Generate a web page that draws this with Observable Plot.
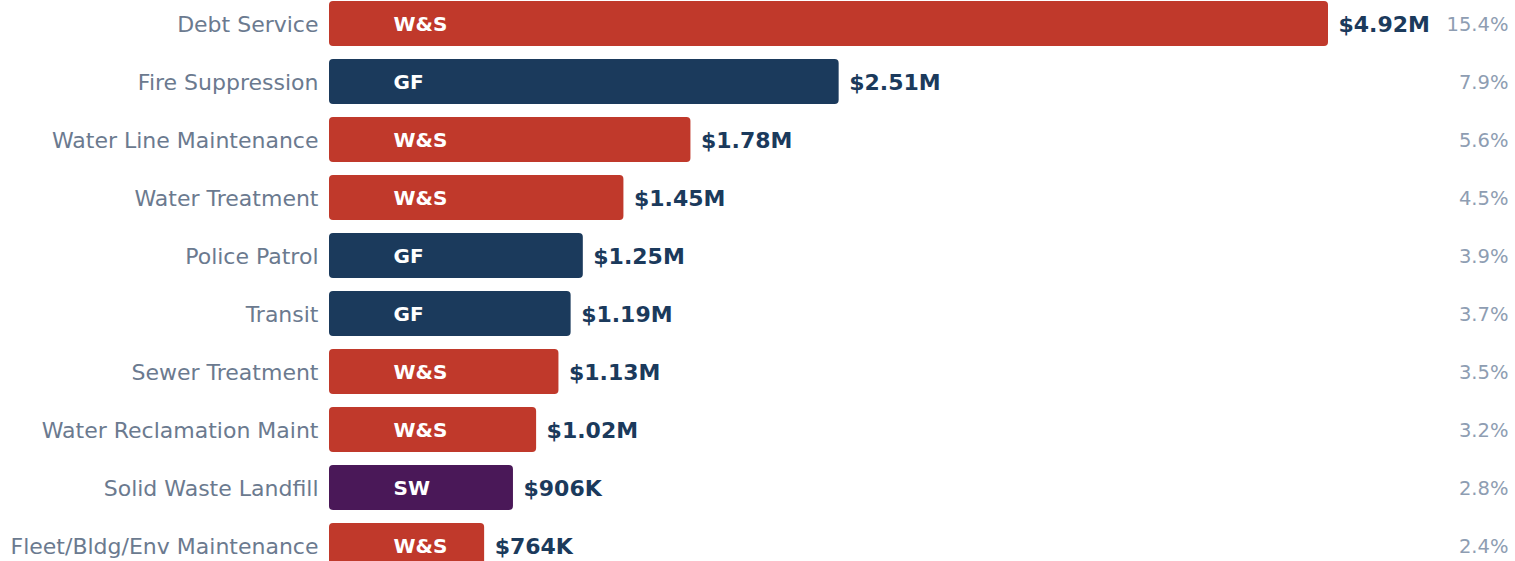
<!DOCTYPE html>
<html>
<head>
<meta charset="utf-8">
<script src="https://cdn.jsdelivr.net/npm/d3@7"></script>
<script src="https://cdn.jsdelivr.net/npm/@observablehq/plot@0.6"></script>
<style>
  html, body { margin: 0; padding: 0; background: #ffffff; overflow: hidden; }
  #chart svg { display: block; }
</style>
</head>
<body>
<div id="chart"></div>
<script>
const categories = ["Debt Service", "Fire Suppression", "Water Line Maintenance", "Water Treatment", "Police Patrol", "Transit", "Sewer Treatment", "Water Reclamation Maint", "Solid Waste Landfill", "Fleet/Bldg/Env Maintenance"];
const values = [4.92e6, 2.51e6, 1.78e6, 1.45e6, 1.25e6, 1.19e6, 1.13e6, 1.02e6, 906e3, 764e3];
const funds = ["W&S", "GF", "W&S", "W&S", "GF", "GF", "W&S", "W&S", "SW", "W&S"];
const percents = ["15.4%", "7.9%", "5.6%", "4.5%", "3.9%", "3.7%", "3.5%", "3.2%", "2.8%", "2.4%"];
const fundNames = ["W&S", "GF", "SW"];
const fundColors = ["#c0392b", "#1b3a5c", "#4a1858"];

const data = categories.map((c, i) => ({category: c, value: values[i], fund: funds[i], pct: percents[i]}));
const fmt = v => v >= 1e6 ? "$" + (v / 1e6).toFixed(2) + "M" : "$" + Math.round(v / 1e3) + "K";

const chart = Plot.plot({
  width: 1515,
  height: 570,
  marginLeft: 329,
  marginRight: 187,
  marginTop: 0,
  marginBottom: 0,
  style: {fontFamily: "DejaVu Sans", background: "#ffffff"},
  x: {domain: [0, 4.92e6], axis: null},
  y: {domain: categories, paddingInner: 0.224, paddingOuter: 0.017, axis: null},
  color: {domain: fundNames, range: fundColors},
  marks: [
    Plot.barX(data, {x: "value", y: "category", fill: "fund", rx: 4}),
    Plot.text(data, {y: "category", text: "category", frameAnchor: "left", textAnchor: "end", dx: -11, dy: 1, fontSize: 22, fill: "#6b7a8f"}),
    Plot.text(data, {x: 0, y: "category", text: "fund", textAnchor: "start", dx: 64, dy: 1, fontSize: 20, fontWeight: "bold", fill: "#ffffff", style: "letter-spacing:1.5px"}),
    Plot.text(data, {x: "value", y: "category", text: d => fmt(d.value), textAnchor: "start", dx: 10, dy: 1, fontSize: 22, fontWeight: "bold", fill: "#1b3a5c"}),
    Plot.text(data, {y: "category", text: "pct", frameAnchor: "right", textAnchor: "end", dx: 180, dy: 1, fontSize: 19.5, fill: "#8e9db2"})
  ]
});
document.getElementById("chart").appendChild(chart);
</script>
</body>
</html>
